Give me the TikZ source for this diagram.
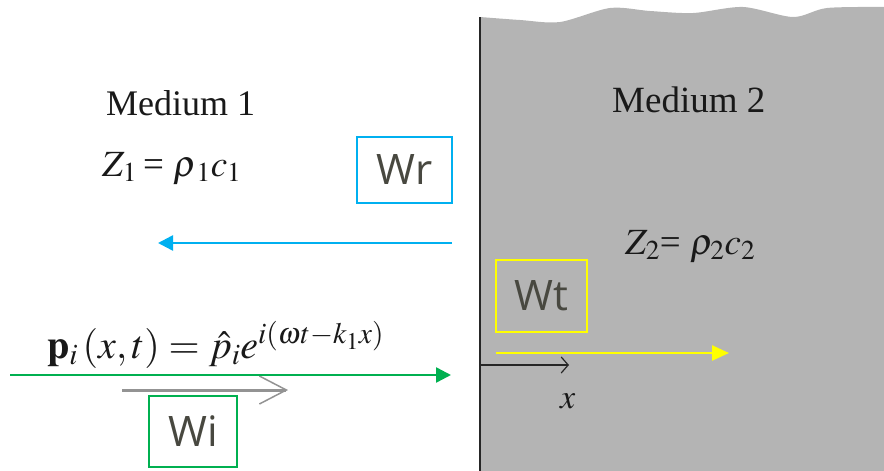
\documentclass[tikz,border=0pt]{standalone}
\usepackage{mathptmx}
\usepackage{fontspec}
\setmainfont{Liberation Serif}
\newfontfamily\labelfont{Open Sans}
\usetikzlibrary{arrows.meta}
\definecolor{medgray}{RGB}{180,180,180}
\definecolor{wgreen}{RGB}{0,176,80}
\definecolor{wblue}{RGB}{0,176,240}
\definecolor{wyellow}{RGB}{255,255,0}
\definecolor{labtext}{RGB}{72,72,64}
\definecolor{ink}{RGB}{25,25,25}
\tikzset{
  wbox/.style={draw, line width=2pt, minimum width=#1, inner sep=0pt, text=labtext,
    font=\labelfont\fontsize{42}{48}\selectfont},
  serif/.style={text=ink, inner sep=0pt, anchor=base west},
  wavearrow/.style={line width=2.5pt, -{Triangle[length=15pt,width=15pt]}},
}
\begin{document}
\begin{tikzpicture}[x=1pt,y=-1pt]
\useasboundingbox (0,0) rectangle (884,471);
% medium 2
\fill[medgray] plot[smooth] coordinates {(480,17) (520,20) (560,22) (610,8) (650,11) (693,13) (743,7) (793,17) (827,8) (884,7)} -- (884,471) -- (480,471) -- cycle;
\coordinate (wallTop) at (480,17);
\coordinate (wallBot) at (480,471);
\draw[line width=1.6pt, black!85] (wallTop) -- (wallBot);

% texts
\node[serif, font=\fontsize{36}{42}\selectfont] (m1) at (106,115) {Medium 1};
\node[serif, font=\fontsize{37}{42}\selectfont] (m2) at (612,112) {Medium 2};
\node[serif, font=\fontsize{37}{42}\selectfont] (z1) at (102,176) {$Z_1$\,= $\rho_{\,1}c_1$};
\node[serif, font=\fontsize{37}{42}\selectfont] (z2) at (625,254) {$Z_2$= $\rho_2c_2$};
\node[serif, font=\fontsize{40}{46}\selectfont] (pi) at (47,358) {$\mathbf{p}_i\,(x,t)=\hat{p}_ie^{i(\omega t-k_1x)}$};
\node[serif, font=\fontsize{34}{40}\selectfont] (xl) at (560,408) {$x$};

% gray arrow under formula
\coordinate (ga) at (122,390);
\coordinate (gb) at (288,390);
\draw[gray!85, line width=3pt, -{Straight Barb[length=27pt,width=28pt,line width=1.5pt]}] (ga) -- (gb);

% x axis
\coordinate (xa) at (480,365);
\coordinate (xb) at (569,365);
\draw[black!85, line width=1.2pt, -{Straight Barb[length=7pt,width=16pt]}] (xa) -- (xb);

% boxes
\node[wbox=95pt, draw=wblue, minimum height=66pt] (wr) at (404.5,170) {Wr};
\node[wbox=91pt, draw=wyellow, minimum height=72pt] (wt) at (541.5,296) {Wt};
\node[wbox=88pt, draw=wgreen, minimum height=71pt] (wi) at (193,431.5) {Wi};

% wave arrows
\coordinate (rs) at (452,243);
\coordinate (re) at (158,243);
\draw[wavearrow, wblue] (rs) -- (re);
\coordinate (ts) at (496,353);
\coordinate (te) at (729,353);
\draw[wavearrow, wyellow, -{Triangle[length=17pt,width=15pt]}] (ts) -- (te);
\coordinate (is) at (10,375);
\coordinate (ie) at (451,375);
\draw[wavearrow, wgreen] (is) -- (ie);
\end{tikzpicture}
\end{document}
